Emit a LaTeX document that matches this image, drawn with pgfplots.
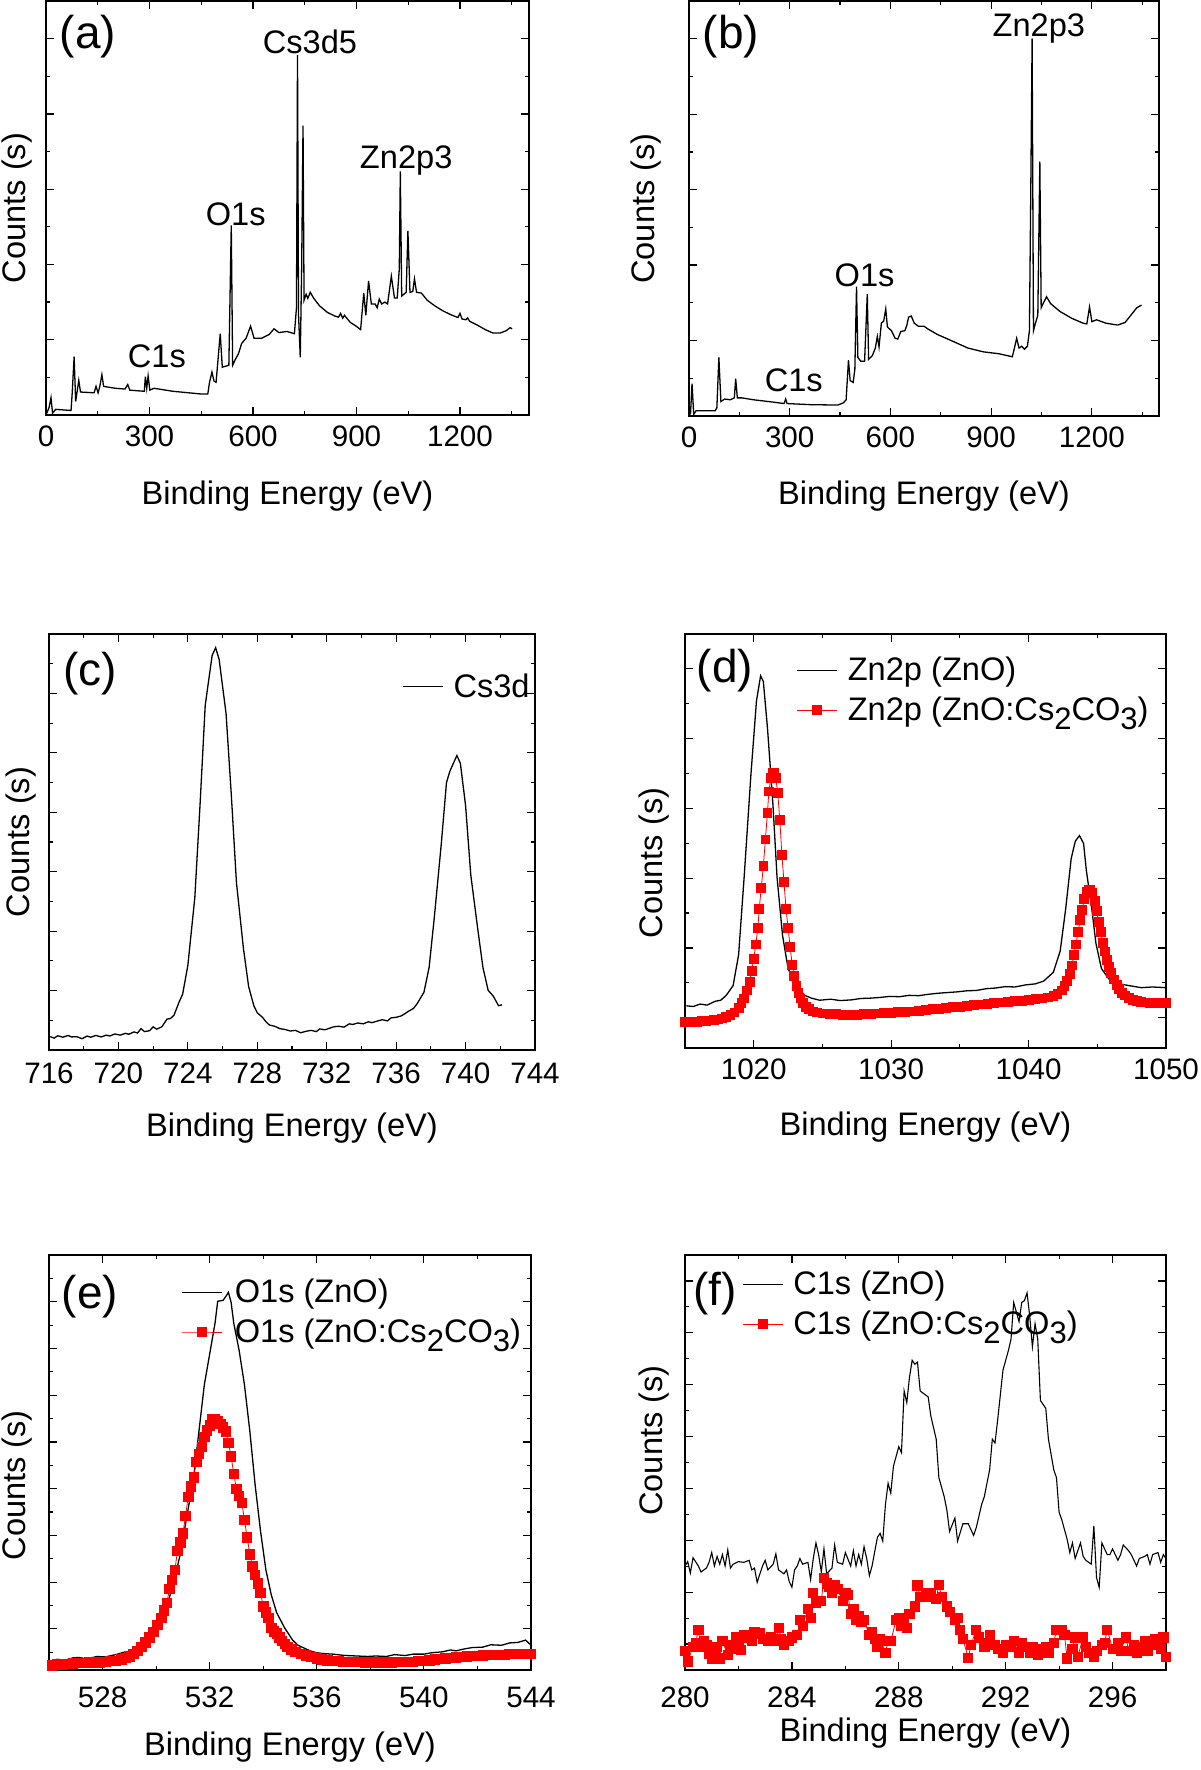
\documentclass[border=0pt]{standalone}
\usepackage{fontspec}
\setmainfont{Liberation Sans}
\usepackage{pgfplots}
\pgfplotsset{compat=1.18}
\definecolor{myred}{RGB}{255,0,0}
\newcommand\ticksize{\fontsize{14.8}{16}\selectfont}
\newcommand\labsize{\fontsize{16.3}{18}\selectfont}
\newcommand\legsize{\fontsize{16.3}{18}\selectfont}
\newcommand\panelsize{\fontsize{23}{26}\selectfont}
\newcommand\sub[1]{\raisebox{-4.5pt}{\fontsize{15.5}{15.5}\selectfont #1}}
\pgfplotsset{
  xps/.style={
    scale only axis,
    axis line style={line width=0.7pt},
    tick align=inside,
    major tick length=4pt, minor tick length=2.2pt,
    every tick/.style={black, line width=0.6pt},
    yticklabels={},
    tick label style={font=\ticksize},
    /pgf/number format/assume math mode=true,
    /pgf/number format/1000 sep={},
    xticklabel style={yshift=-2pt},
    xlabel={Binding Energy (eV)},
    ylabel={Counts (s)},
    label style={font=\labsize},
    clip mode=individual,
    legend cell align=left,
    legend image code/.code={\draw[mark repeat=2,mark phase=2,##1] plot coordinates {(0pt,0pt) (10pt,0pt) (20pt,0pt)};},
  },
  blk/.style={black, line width=0.65pt, mark=none},
  rdm/.style={myred, line width=0.4pt, mark=square*, mark size=#1, mark options={solid, fill=myred, draw=myred}},
}
\begin{document}
\begin{tikzpicture}
\path[use as bounding box] (0,0) rectangle (600pt,-885pt);

% ---------------- (a)
\begin{axis}[xps, at={(23pt,-0.5pt)}, anchor=north west, width=241.5pt, height=207pt,
  xmin=0, xmax=1400, ymin=0, ymax=11,
  xtick={0,300,...,1200}, minor xtick={150,450,...,1350},
  ytick={2,4,6,8,10}, minor ytick={1,3,5,7,9},
  xlabel style={at={(axis description cs:0.5,-0.196)}, anchor=center},
  ylabel style={at={(axis description cs:-0.060,0.5)}, anchor=center}]
\addplot[blk] coordinates {
(0,0) (9,0.2) (14.5,0.46) (19,0.05) (28,0.15) (72.6,0.12) (76,0.59) (81.5,1.55) (86,0.36)
(95,0.92) (100,0.61) (139.5,0.59) (145,0.76) (151,0.59) (156,0.76) (162,1.07) (167,0.76)
(201,0.71) (229,0.69) (237,0.81) (243,0.66) (285,0.63) (288,1.02) (292,0.71) (296,1.04)
(301,0.66) (313,0.71) (368,0.63) (447,0.56) (469,0.56) (474,0.87) (481,1.14) (487,0.90)
(493,0.87) (505,2.16) (511,1.27) (530,1.32) (537,5.04) (541,1.32) (549,1.48) (558,1.63)
(567,1.90) (580,2.04) (593,2.36) (603,2.04) (625,2.04) (647,2.14) (661,2.29) (675,2.19)
(698,2.22) (720,2.16) (726,2.85) (729,9.57) (732,2.65) (737,1.53) (741,3.87) (745,7.69)
(748,3.05) (754,3.21) (759,3.10) (766,3.26) (776,3.10) (793,2.90) (815,2.73) (837,2.63)
(848,2.60) (854,2.70) (860,2.57) (865,2.65) (882,2.46) (899,2.36) (912,2.27) (921,3.24)
(927,2.65) (935,3.56) (943,2.95) (954,2.95) (960,2.85) (966,3.08) (973,2.95) (982,3.00)
(990,2.95) (1001,3.69) (1010,3.11) (1018,3.11) (1024,3.87) (1027,6.47) (1031,3.16)
(1044,3.26) (1049,4.89) (1055,3.26) (1063,3.28) (1068,3.62) (1074,3.26) (1088,3.24)
(1105,3.05) (1127,2.90) (1150,2.77) (1172,2.67) (1194,2.59) (1200,2.70) (1206,2.55)
(1217,2.53) (1222,2.58) (1228,2.49) (1250,2.39) (1273,2.27) (1295,2.18) (1317,2.18)
(1334,2.24) (1345,2.32) (1351,2.29)};
\node[font=\panelsize] at (rel axis cs:0.087,0.914) {(a)};
\node[font=\labsize] at (axis cs:765,9.91) {Cs3d5};
\node[font=\labsize] at (axis cs:550,5.33) {O1s};
\node[font=\labsize] at (axis cs:1044,6.77) {Zn2p3};
\node[font=\labsize] at (axis cs:321.5,1.55) {C1s};
\end{axis}

% ---------------- (b)
\begin{axis}[xps, at={(344.5pt,-0.5pt)}, anchor=north west, width=235pt, height=207.5pt,
  xmin=0, xmax=1400, ymin=0, ymax=11,
  xtick={0,300,...,1200}, minor xtick={150,450,...,1350},
  ytick={2,4,6,8,10}, minor ytick={1,3,5,7,9},
  xlabel style={at={(axis description cs:0.5,-0.193)}, anchor=center},
  ylabel style={at={(axis description cs:-0.0915,0.5)}, anchor=center}]
\addplot[blk] coordinates {
(0,0.02) (4.6,0.07) (9,0.86) (14,0.04) (21,0.14) (32,0.14) (78,0.14) (83,0.22) (89,1.55)
(95,0.38) (106,0.45) (123,0.43) (135,0.48) (139,0.99) (144,0.48) (158,0.48) (192,0.43)
(249,0.37) (283,0.33) (288,0.45) (292,0.33) (363,0.30) (443,0.29) (460,0.35) (468,0.43)
(475,1.48) (480,0.94) (489,0.89) (494,1.24) (499,3.43) (503,1.55) (512,1.45) (523,1.45)
(531,3.23) (535,1.50) (546,1.60) (555,1.80) (561,2.11) (566,1.83) (573,2.46) (580,2.52)
(586,2.84) (591,2.36) (603,2.26) (614,2.06) (622,2.04) (631,2.24) (643,2.26) (649,2.41)
(654,2.62) (662,2.65) (671,2.46) (683,2.38) (700,2.38) (711,2.31) (740,2.16) (786,1.98)
(831,1.80) (877,1.70) (923,1.65) (963,1.57) (968,1.75) (976,2.06) (983,1.80) (991,1.85)
(999,1.77) (1008,1.85) (1014,2.26) (1018,5.93) (1022,10.0) (1026,2.26) (1032,2.46)
(1039,2.67) (1045,6.74) (1049,2.87) (1057,3.02) (1065,3.16) (1077,2.98) (1105,2.77)
(1140,2.59) (1174,2.46) (1185,2.44) (1193,2.89) (1200,2.50) (1214,2.55) (1242,2.46)
(1277,2.41) (1299,2.48) (1316,2.67) (1334,2.87) (1348,2.94)};
\node[font=\panelsize] at (rel axis cs:0.089,0.914) {(b)};
\node[font=\labsize] at (axis cs:1042,10.28) {Zn2p3};
\node[font=\labsize] at (axis cs:523,3.74) {O1s};
\node[font=\labsize] at (axis cs:312,0.96) {C1s};
\end{axis}

% ---------------- (c)
\begin{axis}[xps, at={(24.5pt,-317pt)}, anchor=north west, width=243pt, height=208pt,
  xmin=716, xmax=744, ymin=0, ymax=14,
  xtick={716,720,...,744}, minor xtick={718,722,...,742},
  ytick={2,4,...,12}, minor ytick={1,3,...,13},
  xticklabel style={yshift=-1pt},
  xlabel style={at={(axis description cs:0.5,-0.1875)}, anchor=center},
  ylabel style={at={(axis description cs:-0.058,0.5)}, anchor=center},
  legend style={draw=none, fill=none, at={(axis description cs:0.726,0.906)}, anchor=north west,
    inner sep=0pt, nodes={inner sep=0pt}, column sep=5pt, font=\legsize}]
\addplot[blk] coordinates {
(716.07,0.45) (716.3,0.40) (716.5,0.48) (716.8,0.43) (717.1,0.49) (717.3,0.44) (717.6,0.45)
(717.9,0.38) (718.2,0.47) (718.4,0.43) (718.7,0.49) (719.0,0.44) (719.3,0.50) (719.5,0.47)
(719.8,0.54) (720.1,0.50) (720.4,0.56) (720.6,0.53) (720.9,0.61) (721.1,0.57) (721.3,0.72)
(721.5,0.62) (721.8,0.65) (722.0,0.78) (722.2,0.70) (722.5,0.78) (722.8,1.04) (723.0,1.06)
(723.2,1.17) (723.5,1.62) (723.7,1.88) (724.0,2.85) (724.4,5.12) (724.7,8.23) (725.0,11.6)
(725.4,13.28) (725.6,13.54) (725.8,13.15) (726.2,11.33) (726.5,8.62) (726.8,5.63)
(727.2,3.43) (727.5,2.14) (727.8,1.49) (728.0,1.25) (728.3,1.10) (728.5,0.95) (728.7,0.84)
(729.0,0.80) (729.3,0.72) (729.6,0.69) (729.9,0.64) (730.2,0.66) (730.5,0.58) (730.8,0.63)
(731.1,0.66) (731.4,0.62) (731.6,0.71) (731.9,0.68) (732.2,0.74) (732.4,0.78) (732.7,0.80)
(733.0,0.77) (733.3,0.88) (733.5,0.86) (733.8,0.91) (734.1,0.88) (734.4,0.95) (734.6,0.92)
(734.9,0.97) (735.2,1.02) (735.5,0.98) (735.7,1.08) (736.0,1.10) (736.3,1.15) (736.5,1.22)
(736.7,1.30) (737.0,1.40) (737.2,1.55) (737.6,1.94) (737.9,2.78) (738.2,4.47) (738.6,6.93)
(738.9,9.0) (739.1,9.39) (739.5,9.91) (739.7,9.65) (740.0,8.23) (740.3,5.89) (740.7,4.08)
(741.0,2.78) (741.3,2.01) (741.6,1.81) (741.9,1.49) (742.1,1.52)};
\addlegendentry{Cs3d}
\node[font=\panelsize] at (rel axis cs:0.084,0.906) {(c)};
\end{axis}

% ---------------- (d)
\begin{axis}[xps, at={(342.5pt,-317pt)}, anchor=north west, width=240.5pt, height=207pt,
  xmin=1015, xmax=1050, ymin=0.13, ymax=12,
  xtick={1020,1030,1040,1050}, minor xtick={1015,1025,1035,1045},
  ytick={1,3,...,11}, minor ytick={2,4,...,10},
  xlabel style={at={(axis description cs:0.5,-0.191)}, anchor=center},
  ylabel style={at={(axis description cs:-0.064,0.447)}, anchor=center},
  legend style={draw=none, fill=none, at={(axis description cs:0.231,0.945)}, anchor=north west,
    inner sep=0pt, nodes={inner sep=0pt}, column sep=5pt, row sep=6.5pt, font=\legsize}]
\addplot[blk] coordinates {
(1015.1,1.34) (1015.6,1.32) (1016.1,1.39) (1016.6,1.36) (1017.2,1.47) (1017.6,1.50)
(1018.0,1.64) (1018.5,1.92) (1018.9,2.80) (1019.3,5.01) (1019.8,7.99) (1020.2,10.08)
(1020.5,10.80) (1020.7,10.64) (1021.0,9.31) (1021.4,7.10) (1021.7,5.01) (1022.1,3.35)
(1022.5,2.41) (1023.1,1.92) (1023.7,1.64) (1024.2,1.56) (1024.8,1.50) (1025.6,1.53)
(1026.3,1.49) (1027.1,1.51) (1027.8,1.55) (1028.5,1.56) (1029.2,1.58) (1029.9,1.61)
(1030.6,1.60) (1031.3,1.64) (1032.0,1.63) (1032.7,1.67) (1033.4,1.70) (1034.1,1.72)
(1034.8,1.74) (1035.5,1.77) (1036.2,1.78) (1036.9,1.83) (1037.6,1.85) (1038.3,1.89)
(1039.0,1.88) (1039.8,1.94) (1040.5,1.97) (1041.1,2.05) (1041.8,2.30) (1042.3,2.91)
(1042.7,4.12) (1043.1,5.56) (1043.4,6.06) (1043.7,6.22) (1044.0,6.00) (1044.2,5.23)
(1044.6,4.12) (1044.9,3.13) (1045.3,2.41) (1045.9,2.08) (1046.6,1.97) (1047.3,1.92)
(1048.2,1.86) (1049.0,1.88) (1050.0,1.86)};
\addlegendentry{Zn2p (ZnO)}
\addplot[rdm=2.2pt] coordinates {
(1015.0,0.87) (1015.3,0.88) (1015.6,0.88) (1015.9,0.89) (1016.2,0.90) (1016.5,0.91)
(1016.8,0.92) (1017.1,0.93) (1017.4,0.95) (1017.7,0.98) (1018.0,1.02) (1018.3,1.08)
(1018.6,1.15) (1018.9,1.28) (1019.1,1.42) (1019.3,1.55) (1019.5,1.78) (1019.7,2.03)
(1019.85,2.35) (1020.0,2.69) (1020.15,3.1) (1020.3,3.57) (1020.4,4.12) (1020.55,4.73)
(1020.7,5.34) (1020.85,6.11) (1021.0,6.88) (1021.1,7.49) (1021.25,7.88) (1021.4,8.01)
(1021.5,8.01) (1021.6,7.88) (1021.75,7.44) (1021.9,6.66) (1022.05,5.67) (1022.2,4.90)
(1022.35,4.12) (1022.5,3.57) (1022.65,3.02) (1022.8,2.52) (1022.95,2.2) (1023.1,1.92)
(1023.25,1.72) (1023.4,1.55) (1023.6,1.42) (1023.8,1.31) (1024.0,1.24) (1024.3,1.18)
(1024.6,1.15) (1025.0,1.12) (1025.5,1.11) (1026.0,1.10) (1026.5,1.09) (1027.0,1.08)
(1027.5,1.09) (1028.0,1.10) (1028.5,1.11) (1029.0,1.12) (1029.5,1.13) (1030.0,1.14)
(1030.5,1.16) (1031.0,1.17) (1031.5,1.18) (1032.0,1.20) (1032.5,1.22) (1033.0,1.24)
(1033.5,1.26) (1034.0,1.28) (1034.5,1.30) (1035.0,1.32) (1035.5,1.34) (1036.0,1.36)
(1036.5,1.38) (1037.0,1.40) (1037.5,1.42) (1038.0,1.44) (1038.5,1.46) (1039.0,1.48)
(1039.5,1.49) (1040.0,1.51) (1040.5,1.53) (1041.0,1.55) (1041.4,1.58) (1041.8,1.62)
(1042.1,1.68) (1042.4,1.78) (1042.6,1.90) (1042.8,2.05) (1043.0,2.25) (1043.15,2.5)
(1043.3,2.80) (1043.45,3.1) (1043.6,3.46) (1043.75,3.8) (1043.9,4.1) (1044.05,4.4)
(1044.2,4.6) (1044.35,4.68) (1044.5,4.66) (1044.65,4.57) (1044.8,4.35) (1044.95,4.05)
(1045.1,3.75) (1045.25,3.45) (1045.4,3.15) (1045.55,2.9) (1045.7,2.65) (1045.85,2.45)
(1046.0,2.28) (1046.2,2.1) (1046.4,1.95) (1046.6,1.83) (1046.8,1.72) (1047.0,1.64)
(1047.3,1.57) (1047.6,1.52) (1047.9,1.48) (1048.2,1.45) (1048.5,1.44) (1048.8,1.43)
(1049.1,1.42) (1049.4,1.42) (1049.7,1.42) (1050.0,1.42) (1050.2,1.42)};
\addlegendentry{Zn2p (ZnO:Cs\sub{2}CO\sub{3})}
\node[font=\panelsize] at (rel axis cs:0.083,0.911) {(d)};
\end{axis}

% ---------------- (e)
\begin{axis}[xps, at={(24.5pt,-627.5pt)}, anchor=north west, width=241pt, height=207.5pt,
  xmin=526, xmax=544, ymin=0.12, ymax=9,
  xtick={528,532,...,544}, minor xtick={526,530,...,542},
  ytick={1,...,8}, minor ytick={0.5,1.5,...,8.5},
  xticklabel style={yshift=-3pt},
  xlabel style={at={(axis description cs:0.5,-0.186)}, anchor=center},
  ylabel style={at={(axis description cs:-0.066,0.445)}, anchor=center},
  legend style={draw=none, fill=none, at={(axis description cs:0.274,0.943)}, anchor=north west,
    inner sep=0pt, nodes={inner sep=0pt}, column sep=6pt, row sep=6.5pt, font=\legsize}]
\addplot[blk] coordinates {
(526.0,0.30) (526.3,0.35) (526.6,0.33) (526.9,0.38) (527.1,0.39) (527.4,0.36) (527.8,0.41)
(528.1,0.40) (528.5,0.45) (528.8,0.50) (529.0,0.47) (529.2,0.53) (529.4,0.58) (529.6,0.68)
(529.8,0.80) (530.1,1.02) (530.3,1.30) (530.5,1.68) (530.7,2.10) (530.9,2.59) (531.2,3.58)
(531.4,4.24) (531.6,5.23) (531.8,6.22) (532.0,6.88) (532.2,7.54) (532.3,8.01) (532.5,8.03)
(532.6,8.11) (532.7,8.20) (532.8,7.99) (532.9,7.54) (533.1,6.96) (533.3,6.22) (533.5,5.23)
(533.7,4.07) (533.9,3.09) (534.1,2.26) (534.3,1.73) (534.5,1.35) (534.8,1.02) (535.1,0.76)
(535.3,0.65) (535.6,0.57) (535.8,0.52) (536.0,0.49) (536.3,0.47) (536.6,0.46) (536.9,0.44)
(537.1,0.43) (537.5,0.42) (537.9,0.41) (538.2,0.42) (538.6,0.41) (538.9,0.45) (539.3,0.43)
(539.6,0.46) (540.0,0.46) (540.3,0.49) (540.7,0.51) (541.0,0.55) (541.2,0.53) (541.5,0.57)
(541.8,0.60) (542.2,0.61) (542.5,0.66) (542.9,0.65) (543.2,0.70) (543.5,0.71) (543.8,0.76)
(544.0,0.65)};
\addlegendentry{O1s (ZnO)}
\addplot[rdm=2.35pt] coordinates {
(525.9,0.20) (526.1,0.22) (526.3,0.24) (526.5,0.24) (526.7,0.25) (526.9,0.26) (527.1,0.27)
(527.3,0.27) (527.5,0.28) (527.7,0.28) (527.9,0.28) (528.1,0.29) (528.3,0.31) (528.5,0.32)
(528.7,0.35) (528.85,0.38) (529.0,0.41) (529.15,0.47) (529.3,0.53) (529.45,0.62) (529.6,0.71)
(529.75,0.82) (529.9,0.94) (530.05,1.08) (530.2,1.23) (530.3,1.40) (530.4,1.56) (530.5,1.85)
(530.6,2.05) (530.7,2.26) (530.8,2.67) (530.9,2.85) (531.0,3.04) (531.1,3.42) (531.2,3.83)
(531.3,4.05) (531.4,4.24) (531.5,4.57) (531.6,4.75) (531.7,4.90) (531.8,5.11) (531.9,5.25)
(532.0,5.35) (532.1,5.48) (532.2,5.48) (532.3,5.44) (532.4,5.39) (532.5,5.31) (532.6,5.23)
(532.7,4.98) (532.8,4.69) (532.9,4.32) (533.0,3.99) (533.1,3.85) (533.2,3.70) (533.3,3.33)
(533.4,2.96) (533.5,2.59) (533.6,2.34) (533.7,2.15) (533.8,1.97) (533.9,1.77) (534.0,1.48)
(534.1,1.35) (534.2,1.23) (534.3,1.02) (534.4,0.95) (534.5,0.90) (534.6,0.82) (534.7,0.74)
(534.8,0.68) (534.9,0.61) (535.05,0.56) (535.2,0.51) (535.4,0.47) (535.6,0.43) (535.8,0.40)
(536.0,0.37) (536.2,0.35) (536.4,0.33) (536.6,0.32) (536.8,0.31) (537.0,0.30) (537.2,0.30)
(537.4,0.29) (537.6,0.29) (537.8,0.28) (538.0,0.28) (538.2,0.28) (538.4,0.28) (538.6,0.28)
(538.8,0.28) (539.0,0.29) (539.2,0.29) (539.4,0.30) (539.6,0.30) (539.8,0.31) (540.0,0.32)
(540.2,0.33) (540.4,0.35) (540.6,0.36) (540.8,0.37) (541.0,0.38) (541.2,0.39) (541.4,0.40)
(541.6,0.41) (541.8,0.42) (542.0,0.42) (542.2,0.43) (542.4,0.44) (542.6,0.44) (542.8,0.45)
(543.0,0.45) (543.2,0.46) (543.4,0.46) (543.6,0.46) (543.8,0.46) (544.0,0.47) (544.1,0.47)};
\addlegendentry{O1s (ZnO:Cs\sub{2}CO\sub{3})}
\node[font=\panelsize] at (rel axis cs:0.085,0.899) {(e)};
\end{axis}

% ---------------- (f)
\begin{axis}[xps, at={(342.5pt,-627.5pt)}, anchor=north west, width=240.5pt, height=207.5pt,
  xmin=280, xmax=298, ymin=0, ymax=16,
  xtick={280,284,...,296}, minor xtick={282,286,...,298},
  ytick={1,3,...,15}, minor ytick={2,4,...,14},
  xticklabel style={yshift=-3pt},
  xlabel style={at={(axis description cs:0.5,-0.152)}, anchor=center},
  ylabel style={at={(axis description cs:-0.064,0.553)}, anchor=center},
  legend style={draw=none, fill=none, at={(axis description cs:0.118,0.962)}, anchor=north west,
    inner sep=0pt, nodes={inner sep=0pt}, column sep=5pt, row sep=6.5pt, font=\legsize}]
\addplot[black, line width=0.55pt, mark=none] coordinates {
(280.0,4.01) (280.1,4.18) (280.2,3.74) (280.3,4.33) (280.5,4.01) (280.6,3.78) (280.8,3.93)
(280.9,4.15) (281.0,4.53) (281.1,4.01) (281.2,4.38) (281.3,4.08) (281.4,4.45) (281.5,4.01)
(281.6,4.63) (281.7,3.93) (281.8,4.08) (282.0,4.18) (282.2,4.15) (282.4,4.23) (282.5,3.86)
(282.6,3.93) (282.7,3.38) (282.9,4.01) (283.0,4.23) (283.1,3.86) (283.3,4.08) (283.4,4.48)
(283.5,3.86) (283.7,3.71) (283.8,3.86) (283.9,3.41) (284.0,3.19) (284.1,3.86) (284.2,4.01)
(284.3,4.30) (284.4,4.08) (284.6,4.15) (284.7,3.49) (284.8,4.30) (284.9,4.90) (285.0,4.45)
(285.1,3.78) (285.2,4.67) (285.3,3.71) (285.5,3.93) (285.6,4.82) (285.7,4.15) (285.9,4.08)
(286.0,4.53) (286.2,4.01) (286.3,4.60) (286.4,4.01) (286.5,4.45) (286.6,4.08) (286.7,4.75)
(286.8,4.30) (286.9,3.64) (287.0,4.01) (287.2,5.12) (287.3,5.27) (287.4,4.97) (287.5,6.38)
(287.6,7.20) (287.7,6.82) (287.8,7.86) (288.0,8.61) (288.1,8.38) (288.2,10.76) (288.3,10.31)
(288.4,11.28) (288.5,11.94) (288.6,11.79) (288.7,11.87) (288.8,10.76) (288.9,10.68)
(289.1,10.53) (289.2,9.79) (289.4,8.90) (289.5,7.42) (289.7,6.68) (289.8,6.16) (289.9,5.34)
(290.1,5.86) (290.2,4.97) (290.4,5.64) (290.6,5.64) (290.8,5.19) (290.9,5.49) (291.1,6.38)
(291.2,6.68) (291.4,7.72) (291.5,8.90) (291.6,8.75) (291.7,9.64) (291.9,11.57) (292.0,11.94)
(292.1,12.31) (292.2,12.76) (292.3,14.17) (292.5,13.43) (292.6,14.17) (292.7,14.24)
(292.8,14.54) (292.9,13.65) (293.0,12.46) (293.1,13.35) (293.2,12.76) (293.3,10.39)
(293.5,10.09) (293.6,8.90) (293.8,7.72) (293.9,7.42) (294.0,6.08) (294.1,5.79) (294.3,5.04)
(294.4,4.53) (294.5,4.90) (294.6,4.30) (294.8,4.90) (294.9,4.38) (295.0,4.23) (295.2,4.08)
(295.3,5.56) (295.4,3.56) (295.5,3.19) (295.6,4.90) (295.8,4.45) (295.9,4.45) (296.0,4.67)
(296.2,4.23) (296.3,4.45) (296.4,4.82) (296.6,4.60) (296.7,4.45) (296.9,4.01) (297.0,4.30)
(297.2,4.38) (297.3,4.45) (297.4,4.08) (297.5,4.45) (297.7,4.53) (297.8,4.15) (297.9,4.45)
(298.0,4.30) (298.1,3.93)};
\addlegendentry{C1s (ZnO)}
\addplot[rdm=2.3pt] coordinates {
(279.9,1.26) (280.0,0.74) (280.1,0.33) (280.3,0.89) (280.4,1.04) (280.5,1.56) (280.6,0.89)
(280.7,1.11) (280.8,0.96) (280.9,0.62) (281.0,0.42) (281.1,0.82) (281.2,0.89) (281.3,0.45)
(281.4,1.11) (281.6,0.59) (281.7,0.82) (281.8,0.96) (281.9,1.26) (282.0,1.04) (282.1,0.77)
(282.2,1.34) (282.4,1.26) (282.5,1.11) (282.6,1.48) (282.8,1.41) (282.9,1.19) (283.1,1.11)
(283.2,1.26) (283.4,1.11) (283.5,1.63) (283.6,1.19) (283.7,0.96) (283.9,1.11) (284.0,1.26)
(284.2,1.34) (284.3,1.93) (284.4,1.71) (284.6,2.37) (284.7,2.00) (284.8,2.97) (284.9,2.60)
(285.1,2.67) (285.2,3.56) (285.3,3.34) (285.4,3.19) (285.5,2.97) (285.6,3.26) (285.7,3.12)
(285.9,2.67) (286.0,2.97) (286.1,2.89) (286.2,2.15) (286.3,2.37) (286.4,1.93) (286.5,2.08)
(286.6,1.85) (286.7,1.93) (286.9,1.34) (287.0,1.48) (287.1,1.19) (287.2,0.89) (287.3,1.19)
(287.5,0.67) (287.6,1.11) (287.7,1.11) (287.9,1.93) (288.0,2.00) (288.1,1.71) (288.2,1.85)
(288.3,1.63) (288.4,2.15) (288.6,2.45) (288.7,3.26) (288.8,2.82) (289.0,2.97) (289.1,2.82)
(289.2,2.97) (289.4,2.74) (289.5,3.29) (289.6,2.82) (289.8,2.45) (289.9,2.23) (290.1,1.93)
(290.2,2.00) (290.3,1.56) (290.4,1.19) (290.6,0.47) (290.7,0.96) (290.9,1.56) (291.0,1.26)
(291.2,0.89) (291.3,1.04) (291.4,1.34) (291.6,0.96) (291.7,0.82) (291.9,0.67) (292.0,0.96)
(292.2,0.89) (292.3,1.11) (292.5,0.67) (292.6,1.04) (292.7,0.89) (292.9,0.67) (293.0,0.89)
(293.2,0.59) (293.3,0.82) (293.5,0.89) (293.6,0.67) (293.8,1.04) (293.9,1.56) (294.1,1.56)
(294.2,1.34) (294.3,0.45) (294.5,0.82) (294.6,1.26) (294.7,0.52) (294.9,1.26) (295.0,0.89)
(295.1,0.67) (295.3,0.52) (295.4,0.74) (295.6,0.96) (295.7,1.04) (295.8,1.56) (296.0,0.82)
(296.2,1.04) (296.3,0.74) (296.5,1.26) (296.6,0.74) (296.8,0.96) (296.9,0.67) (297.0,0.89)
(297.2,1.11) (297.3,0.74) (297.5,0.96) (297.6,1.19) (297.8,0.82) (297.9,1.26) (298.0,0.52)
(298.1,0.89)};
\addlegendentry{C1s (ZnO:Cs\sub{2}CO\sub{3})}
\node[font=\panelsize] at (rel axis cs:0.062,0.908) {(f)};
\end{axis}
\end{tikzpicture}
\end{document}
